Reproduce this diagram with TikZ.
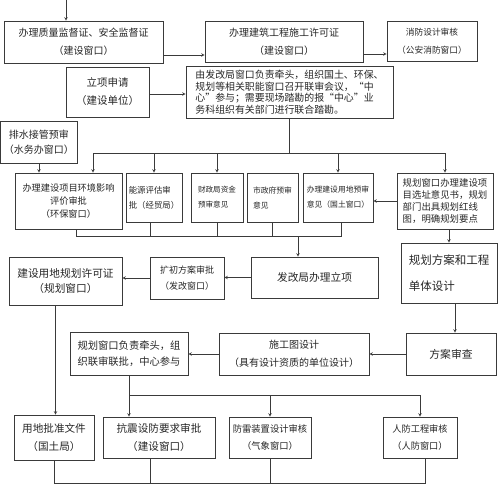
\documentclass[tikz,border=0pt]{standalone}
\usepackage{fontspec}
\usepackage{tikz}
\usetikzlibrary{positioning, arrows}
\newfontfamily\cjk{Noto Sans CJK SC}
\definecolor{lineGray}{HTML}{3A3A3A}
\tikzstyle{box} = [rectangle, draw=lineGray, line width=0.6pt, inner sep=0pt,
align=center, text=black!85, font=\cjk\fontsize{10}{18}\selectfont]
\tikzstyle{lbox} = [box, align=left]
\tikzstyle{arrow} = [->, >=stealth, draw=lineGray, line width=0.6pt]
\tikzstyle{line} = [draw=lineGray, line width=0.6pt]

\begin{document}
\begin{tikzpicture}[x=1pt, y=-1pt]
\useasboundingbox (0,0) rectangle (500,485);
% top row
\node (A) [box, minimum width=159pt, minimum height=42pt] at (83.5,42) {办理质量监督证、安全监督证\\（建设窗口）};
\node (B) [box, minimum width=158pt, minimum height=41pt] at (284,41.5) {办理建筑工程施工许可证\\（建设窗口）};
\node (C) [box, minimum width=90pt, minimum height=40pt, font=\cjk\fontsize{8.7}{18}\selectfont] at (432,41) {消防设计审核\\（公安消防窗口）};
\node (D) [box, minimum width=83pt, minimum height=50pt, font=\cjk\fontsize{10.5}{18}\selectfont] at (107.5,92) {立项申请\\（建设单位）};
\node (E) [lbox, minimum width=207pt, minimum height=52pt, font=\cjk\fontsize{9.9}{11.5}\selectfont] at (289.5,92) {由发改局窗口负责牵头，组织国土、环保、\\规划等相关职能窗口召开联审会议，“中\\心”参与；需要现场踏勘的报“中心”业\\务科组织有关部门进行联合踏勘。};
\node (W) [box, minimum width=77pt, minimum height=42pt, font=\cjk\fontsize{10}{15}\selectfont] at (39,142) {排水接管预审\\（水务办窗口）};
% review row
\node (F1) [box, minimum width=107pt, minimum height=56pt, font=\cjk\fontsize{9.2}{13}\selectfont] at (68.5,201) {办理建设项目环境影响\\评价审批\\（环保窗口）};
\node (F2) [lbox, minimum width=56pt, minimum height=49pt, font=\cjk\fontsize{8.4}{15}\selectfont] at (154,197.5) {能源评估审\\批（经贸局）};
\node (F3) [lbox, minimum width=52pt, minimum height=49pt, font=\cjk\fontsize{7.6}{15}\selectfont] at (217,197.5) {财政局资金\\预审意见};
\node (F4) [lbox, minimum width=51pt, minimum height=49pt, font=\cjk\fontsize{7.8}{15}\selectfont] at (272.5,197.5) {市政府预审\\意见};
\node (F5) [lbox, minimum width=70pt, minimum height=49pt, font=\cjk\fontsize{7.8}{15}\selectfont] at (338,197.5) {办理建设用地预审\\意见（国土窗口）};
\node (F6) [lbox, minimum width=96pt, minimum height=56pt, font=\cjk\fontsize{9.4}{12}\selectfont] at (445,201) {规划窗口办理建设项\\目选址意见书，规划\\部门出具规划红线\\图，明确规划要点};
% middle rows
\node (G) [box, minimum width=127pt, minimum height=41pt, font=\cjk\fontsize{10.7}{18}\selectfont] at (314.5,277.5) {发改局办理立项};
\node (H) [box, minimum width=74pt, minimum height=42pt, font=\cjk\fontsize{9}{16}\selectfont] at (187,278) {扩初方案审批\\（发改窗口）};
\node (I) [box, minimum width=113pt, minimum height=48pt, font=\cjk\fontsize{10.7}{15.5}\selectfont] at (65.5,281) {建设用地规划许可证\\（规划窗口）};
\node (J) [lbox, minimum width=96pt, minimum height=60pt, font=\cjk\fontsize{11.5}{26}\selectfont] at (449,273) {规划方案和工程\\单体设计};
\node (K) [box, minimum width=90pt, minimum height=42pt, font=\cjk\fontsize{10.8}{18}\selectfont] at (451,354) {方案审查};
\node (L) [box, minimum width=150pt, minimum height=42pt] at (294,354) {施工图设计\\（具有设计资质的单位设计）};
\node (M) [box, minimum width=118pt, minimum height=43pt, font=\cjk\fontsize{10.3}{16}\selectfont] at (129,353.5) {规划窗口负责牵头，组\\织联审联批，中心参与};
% bottom row
\node (N) [box, minimum width=80pt, minimum height=45pt, font=\cjk\fontsize{10.6}{18}\selectfont] at (54,437.5) {用地批准文件\\（国土局）};
\node (O) [box, minimum width=112pt, minimum height=41pt, font=\cjk\fontsize{10.6}{18}\selectfont] at (159,437.5) {抗震设防要求审批\\（建设窗口）};
\node (P) [box, minimum width=82pt, minimum height=41pt, font=\cjk\fontsize{9.3}{17}\selectfont] at (270,437.5) {防雷装置设计审核\\（气象窗口）};
\node (Q) [box, minimum width=74pt, minimum height=41pt, font=\cjk\fontsize{9.2}{17}\selectfont] at (420,437.5) {人防工程审核\\（人防窗口）};

% connectors, top part
\coordinate (start) at (66,0);
\coordinate (aout) at ([yshift=-13pt]A.east);
\coordinate (bout) at ([yshift=-12.5pt]B.east);
\coordinate (dout) at ([yshift=-2pt]D.east);
\draw [arrow] (start) -- (start |- A.north);
\draw [arrow] (aout) -- (aout -| B.west);
\draw [arrow] (bout) -- (bout -| C.west);
\draw [arrow] (dout) -- (dout -| E.west);
% joint review fan out
\coordinate (busE) at (0,153);
\coordinate (f1in) at ([xshift=24.5pt]F1.north);
\draw [line] (E.south) -- (E.south |- busE);
\draw [line] (f1in |- busE) -- (F6.north |- busE);
\draw [arrow] (f1in |- busE) -- (f1in);
\draw [arrow] (F2.north |- busE) -- (F2.north);
\draw [arrow] (F3.north |- busE) -- (F3.north);
\draw [arrow] (F5.north |- busE) -- (F5.north);
\draw [arrow] (F6.north |- busE) -- (F6.north);
\draw [arrow] (W.south) -- (W.south |- F1.north);
\draw [arrow] (F6.west) -- (F6.west -| F5.east);
% gather into project approval
\coordinate (busF) at (0,236);
\coordinate (f1out) at ([xshift=7.5pt]F1.south);
\coordinate (f2out) at ([xshift=-4pt]F2.south);
\coordinate (f5out) at ([xshift=3pt]F5.south);
\coordinate (gin) at ([xshift=-16.5pt]G.north);
\draw [line] (f1out) -- (f1out |- busF) -- (f5out |- busF) -- (f5out);
\draw [line] (f2out) -- (f2out |- busF);
\draw [line] (F3.south) -- (F3.south |- busF);
\draw [line] (F4.south) -- (F4.south |- busF);
\draw [arrow] (gin |- busF) -- (gin);
\draw [arrow] (G.west) -- (G.west -| H.east);
\draw [arrow] (H.west) -- (H.west -| I.east);
% planning chain
\coordinate (jout) at ([xshift=6pt]J.south);
\draw [arrow] (F6.south -| J.north) -- (J.north);
\draw [arrow] (jout) -- (jout |- K.north);
\draw [arrow] (K.west) -- (K.west -| L.east);
\draw [arrow] (L.west) -- (L.west -| M.east);
\coordinate (iout) at ([xshift=-10pt]I.south);
\draw [arrow] (iout) -- (iout |- N.north);
\coordinate (busM) at (0,395);
\draw [arrow] (M.south) -- (M.south |- O.north);
\draw [line] (M.south |- busM) -- (Q.north |- busM);
\draw [arrow] (P.north |- busM) -- (P.north);
\draw [arrow] (Q.north |- busM) -- (Q.north);
% bottom collector
\coordinate (busB) at (0,483);
\coordinate (oout) at ([xshift=-9pt]O.south);
\coordinate (qout) at ([xshift=5pt]Q.south);
\draw [line] (N.south) -- (N.south |- busB) -- (qout |- busB) -- (qout);
\draw [line] (oout) -- (oout |- busB);
\draw [line] (P.south) -- (P.south |- busB);
\end{tikzpicture}
\end{document}
